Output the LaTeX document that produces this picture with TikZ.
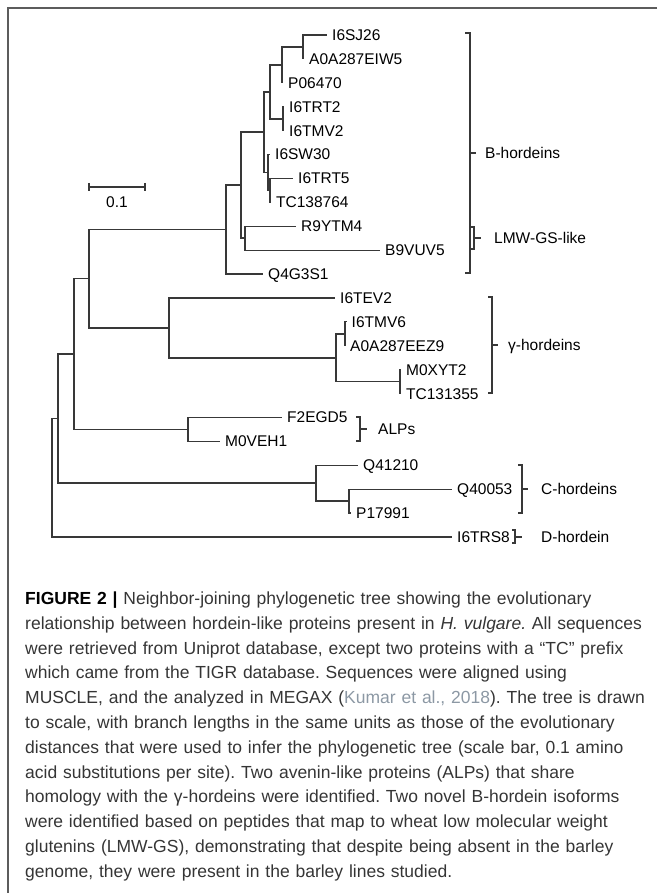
\documentclass[tikz,border=0pt]{standalone}
\usepackage{fontspec}
\setmainfont{Liberation Sans}
\usepackage{tikz}
\usepackage{xcolor}
\definecolor{treeline}{HTML}{383838}
\definecolor{captext}{HTML}{353535}
\definecolor{citecol}{HTML}{8C98A4}
\definecolor{framecol}{HTML}{5C5C5C}
\frenchspacing

\begin{document}
\begin{tikzpicture}[x=1pt, y=-1pt,
  branch/.style={draw=treeline, line width=1.2pt},
  leaf/.style={anchor=west, inner xsep=5pt, inner ysep=0pt, text height=11pt, text depth=0pt, font=\fontsize{15.5}{18}\selectfont},
  cladename/.style={anchor=west, inner sep=0pt, text height=11pt, text depth=0pt, font=\fontsize{15.5}{18}\selectfont},
  caption/.style={anchor=north west, inner sep=0pt, text width=640pt, align=left, text=captext, font=\fontsize{17.5}{24.8}\selectfont}]
  \useasboundingbox (0,0) rectangle (657,893);
  \draw[framecol, line width=1.5pt] (657,8) -- (8,8) -- (8,893);

  \coordinate (r0) at (52,477.7);
  \coordinate (n1) at (58,418.5);
  \coordinate (n2) at (74,354);
  \coordinate (n3) at (89,278.7);
  \coordinate (n4) at (226,229.5);
  \coordinate (n5) at (241,185);
  \coordinate (n6) at (245,238);
  \coordinate (n7) at (264,132);
  \coordinate (n8) at (270,92);
  \coordinate (n9) at (282,65);
  \coordinate (n10) at (303,47);
  \coordinate (n11) at (283,119);
  \coordinate (n12) at (268,172.5);
  \coordinate (n13) at (270,190);
  \coordinate (n14) at (169,328);
  \coordinate (n15) at (336,358);
  \coordinate (n16) at (345,334);
  \coordinate (n17) at (400,381.7);
  \coordinate (n18) at (188,429.4);
  \coordinate (n19) at (316,483);
  \coordinate (n20) at (349,501);

  \node[leaf] (sj26) at (327,35) {I6SJ26};
  \node[leaf] (eiw5) at (304,58.9) {A0A287EIW5};
  \node[leaf] (p06470) at (283,82.8) {P06470};
  \node[leaf] (trt2) at (284,106.7) {I6TRT2};
  \node[leaf] (tmv2) at (284,130.6) {I6TMV2};
  \node[leaf] (sw30) at (270,154.5) {I6SW30};
  \node[leaf] (trt5) at (293,178.4) {I6TRT5};
  \node[leaf] (tc138) at (271,202.3) {TC138764};
  \node[leaf] (r9ytm4) at (296,226.2) {R9YTM4};
  \node[leaf] (b9vuv5) at (380,250.1) {B9VUV5};
  \node[leaf] (q4g3s1) at (263,274) {Q4G3S1};
  \node[leaf] (tev2) at (335,297.9) {I6TEV2};
  \node[leaf] (tmv6) at (346.5,321.8) {I6TMV6};
  \node[leaf] (eez9) at (345,345.7) {A0A287EEZ9};
  \node[leaf] (m0xyt2) at (401,369.6) {M0XYT2};
  \node[leaf] (tc131) at (401,393.5) {TC131355};
  \node[leaf] (f2egd5) at (282,417.4) {F2EGD5};
  \node[leaf] (m0veh1) at (220,441.3) {M0VEH1};
  \node[leaf] (q41210) at (358,465.2) {Q41210};
  \node[leaf] (q40053) at (452,489.1) {Q40053};
  \node[leaf] (p17991) at (351,513) {P17991};
  \node[leaf] (trs8) at (452,536.9) {I6TRS8};

  \draw[branch] (r0) |- (n1);
  \draw[branch] (r0) |- (trs8.west);
  \draw[branch] (n1) |- (n2);
  \draw[branch] (n1) |- (n19);
  \draw[branch] (n2) |- (n3);
  \draw[branch] (n2) |- (n18);
  \draw[branch] (n3) |- (n4);
  \draw[branch] (n3) |- (n14);
  \draw[branch] (n4) |- (n5);
  \draw[branch] (n4) |- (q4g3s1.west);
  \draw[branch] (n5) |- (n7);
  \draw[branch] (n5) |- (n6);
  \draw[branch] (n6) |- (r9ytm4.west);
  \draw[branch] (n6) |- (b9vuv5.west);
  \draw[branch] (n7) |- (n8);
  \draw[branch] (n7) |- (n12);
  \draw[branch] (n8) |- (n9);
  \draw[branch] (n8) |- (n11);
  \draw[branch] (n9) |- (n10);
  \draw[branch] (n9) |- (p06470.west);
  \draw[branch] (n10) |- (sj26.west);
  \draw[branch] (n10) |- (eiw5.west);
  \draw[branch] (n11) |- (trt2.west);
  \draw[branch] (n11) |- (tmv2.west);
  \draw[branch] (n12) |- (sw30.west);
  \draw[branch] (n12) |- (n13);
  \draw[branch] (n13) |- (trt5.west);
  \draw[branch] (n13) |- (tc138.west);
  \draw[branch] (n14) |- (tev2.west);
  \draw[branch] (n14) |- (n15);
  \draw[branch] (n15) |- (n16);
  \draw[branch] (n15) |- (n17);
  \draw[branch] (n16) |- (tmv6.west);
  \draw[branch] (n16) |- (eez9.west);
  \draw[branch] (n17) |- (m0xyt2.west);
  \draw[branch] (n17) |- (tc131.west);
  \draw[branch] (n18) |- (f2egd5.west);
  \draw[branch] (n18) |- (m0veh1.west);
  \draw[branch] (n19) |- (q41210.west);
  \draw[branch] (n19) |- (n20);
  \draw[branch] (n20) |- (q40053.west);
  \draw[branch] (n20) |- (p17991.west);

  \draw[branch] (89,183) -- (89,191) (89,187) -- (145,187) (145,183) -- (145,191);
  \node[cladename, anchor=center] (scale) at (117,202) {0.1};

  \draw[branch] (465,33) -- (470,33) -- (470,273) -- (465,273) (470,153) -- (476,153);
  \node[cladename] (bhord) at (485,153) {B-hordeins};
  \draw[branch] (470,227) -- (474,227) -- (474,249) -- (470,249) (474,238) -- (481,238);
  \node[cladename] (lmwgs) at (494,238) {LMW-GS-like};
  \draw[branch] (488,297) -- (492,297) -- (492,393) -- (488,393) (492,345) -- (498,345);
  \node[cladename] (ghord) at (508,345) {γ-hordeins};
  \draw[branch] (356,417) -- (360,417) -- (360,441) -- (356,441) (360,429) -- (367,429);
  \node[cladename] (alps) at (378,429) {ALPs};
  \draw[branch] (518,465) -- (522,465) -- (522,513) -- (518,513) (522,489) -- (528,489);
  \node[cladename] (chord) at (541,489) {C-hordeins};
  \draw[branch] (512,530) -- (515,530) -- (515,543) -- (512,543) (515,537) -- (522,537);
  \node[cladename] (dhord) at (541,537) {D-hordein};

  \node[caption] (cap) at (25,587) {\strut\textcolor{black}{\textbf{FIGURE 2 |}} Neighbor-joining phylogenetic tree showing the evolutionary\\
relationship between hordein-like proteins present in \textit{H. vulgare.} All sequences\\
were retrieved from Uniprot database, except two proteins with a “TC” prefix\\
which came from the TIGR database. Sequences were aligned using\\
MUSCLE, and the analyzed in MEGAX (\textcolor{citecol}{Kumar et al., 2018}). The tree is drawn\\
to scale, with branch lengths in the same units as those of the evolutionary\\
distances that were used to infer the phylogenetic tree (scale bar, 0.1 amino\\
acid substitutions per site). Two avenin-like proteins (ALPs) that share\\
homology with the γ-hordeins were identified. Two novel B-hordein isoforms\\
were identified based on peptides that map to wheat low molecular weight\\
glutenins (LMW-GS), demonstrating that despite being absent in the barley\\
genome, they were present in the barley lines studied.};
\end{tikzpicture}
\end{document}
